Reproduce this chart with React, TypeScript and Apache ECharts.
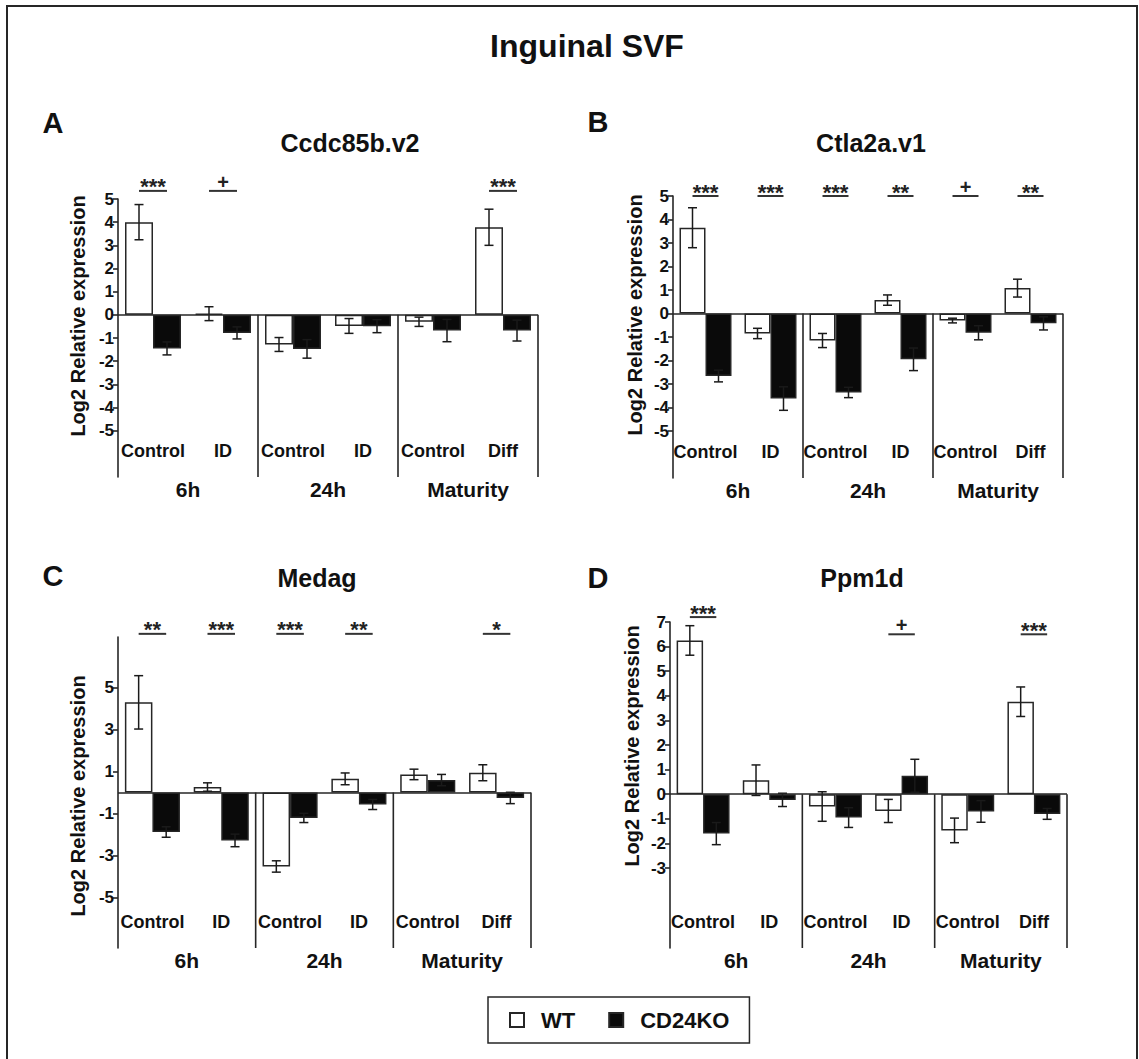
import React, { useEffect, useRef } from 'react';
import * as echarts from 'echarts';

// ---------------- DATA ----------------
const categories = ['Control', 'ID', 'Control', 'ID', 'Control', 'Diff'];
const groups = ['6h', '24h', 'Maturity'];
const seriesNames = ['WT', 'CD24KO'];
const mainTitle = 'Inguinal SVF';
const panelLetters = ['A', 'B', 'C', 'D'];
const panelTitles = ['Ccdc85b.v2', 'Ctla2a.v1', 'Medag', 'Ppm1d'];
const yAxisName = 'Log2 Relative expression';

// Panel A: Ccdc85b.v2
const wtA = [4.0, 0.05, -1.28, -0.48, -0.3, 3.78];
const wtErrA = [0.76, 0.3, 0.3, 0.32, 0.2, 0.78];
const koA = [-1.45, -0.78, -1.47, -0.49, -0.68, -0.68];
const koErrA = [0.28, 0.26, 0.4, 0.28, 0.48, 0.45];
const sigLabelsA = ['***', '+', '', '', '', '***'];
const sigLevelsA = [5.35, 5.35, 0, 0, 0, 5.35];
const ticksA = [5, 4, 3, 2, 1, 0, -1, -2, -3, -4, -5];
const rangeA = [-7, 5];

// Panel B: Ctla2a.v1
const wtB = [3.65, -0.85, -1.15, 0.57, -0.3, 1.08];
const wtErrB = [0.85, 0.22, 0.3, 0.22, 0.1, 0.38];
const koB = [-2.66, -3.62, -3.36, -1.95, -0.82, -0.42];
const koErrB = [0.25, 0.5, 0.22, 0.48, 0.3, 0.28];
const sigLabelsB = ['***', '***', '***', '**', '+', '**'];
const sigLevelsB = [5.0, 5.0, 5.0, 5.0, 5.0, 5.0];
const ticksB = [5, 4, 3, 2, 1, 0, -1, -2, -3, -4, -5];
const rangeB = [-7, 5];

// Panel C: Medag
const wtC = [4.29, 0.26, -3.52, 0.65, 0.86, 0.94];
const wtErrC = [1.27, 0.2, 0.27, 0.28, 0.25, 0.38];
const koC = [-1.88, -2.28, -1.21, -0.57, 0.59, -0.26];
const koErrC = [0.25, 0.3, 0.22, 0.24, 0.27, 0.27];
const sigLabelsC = ['**', '***', '***', '**', '', '*'];
const sigLevelsC = [7.55, 7.55, 7.55, 7.55, 0, 7.55];
const ticksC = [5, 3, 1, -1, -3, -5];
const rangeC = [-7.4, 7.4];

// Panel D: Ppm1d
const wtD = [6.25, 0.57, -0.5, -0.68, -1.47, 3.76];
const wtErrD = [0.6, 0.62, 0.6, 0.47, 0.5, 0.6];
const koD = [-1.6, -0.23, -0.95, 0.75, -0.7, -0.8];
const koErrD = [0.45, 0.27, 0.4, 0.67, 0.44, 0.22];
const sigLabelsD = ['***', '', '', '+', '', '***'];
const sigLevelsD = [7.2, 0, 0, 6.5, 0, 6.5];
const ticksD = [7, 6, 5, 4, 3, 2, 1, 0, -1, -2, -3];
const rangeD = [-6.25, 7];

// ---------------- LAYOUT ----------------
const FONT = '"Liberation Sans", Arial, Helvetica, sans-serif';
const INK = '#111';
const LINE = '#262626';

const layout = [
  { grid: { left: 118, top: 199, width: 420, height: 278 }, letter: [53, 123], title: [350, 143], yName: [78, 316] },
  { grid: { left: 673, top: 196, width: 390, height: 282 }, letter: [598, 122], title: [871, 143], yName: [635, 315] },
  { grid: { left: 118, top: 637, width: 413, height: 311 }, letter: [53, 576], title: [317, 578], yName: [78, 796] },
  { grid: { left: 670, top: 622, width: 397, height: 326 }, letter: [598, 578], title: [862, 578], yName: [632, 746] },
];

const panels = [
  { wt: wtA, wtErr: wtErrA, ko: koA, koErr: koErrA, sigLabels: sigLabelsA, sigLevels: sigLevelsA, ticks: ticksA, range: rangeA },
  { wt: wtB, wtErr: wtErrB, ko: koB, koErr: koErrB, sigLabels: sigLabelsB, sigLevels: sigLevelsB, ticks: ticksB, range: rangeB },
  { wt: wtC, wtErr: wtErrC, ko: koC, koErr: koErrC, sigLabels: sigLabelsC, sigLevels: sigLevelsC, ticks: ticksC, range: rangeC },
  { wt: wtD, wtErr: wtErrD, ko: koD, koErr: koErrD, sigLabels: sigLabelsD, sigLevels: sigLevelsD, ticks: ticksD, range: rangeD },
];

function buildOption() {
  const grids: any[] = [];
  const xAxes: any[] = [];
  const yAxes: any[] = [];
  const series: any[] = [];
  const graphic: any[] = [];

  graphic.push({
    type: 'rect', silent: true,
    shape: { x: 7, y: 6, width: 1130, height: 1080 },
    style: { fill: 'none', stroke: LINE, lineWidth: 2 },
  });
  graphic.push({
    type: 'text', x: 587, y: 46, silent: true,
    style: { text: mainTitle, fontFamily: FONT, fontWeight: 'bold', fontSize: 32, fill: INK, align: 'center', verticalAlign: 'middle' },
  });

  panels.forEach((p, k) => {
    const L = layout[k];
    grids.push({ ...L.grid, containLabel: false });
    const catAxis = xAxes.length;
    xAxes.push({
      type: 'category', gridIndex: k, data: categories, position: 'bottom',
      axisLine: { show: false }, axisTick: { show: false }, splitLine: { show: false },
      axisLabel: { inside: true, margin: 17, interval: 0, fontFamily: FONT, fontWeight: 'bold', fontSize: 18, color: INK },
    });
    const grpAxis = xAxes.length;
    xAxes.push({
      type: 'category', gridIndex: k, data: groups, position: 'bottom',
      axisLine: { show: false }, axisTick: { show: false }, splitLine: { show: false },
      axisLabel: { margin: 2, interval: 0, fontFamily: FONT, fontWeight: 'bold', fontSize: 21, color: INK },
    });
    yAxes.push({
      type: 'value', gridIndex: k, min: p.range[0], max: p.range[1],
      axisLine: { show: true, lineStyle: { color: LINE, width: 1.6 } },
      axisTick: { show: true, length: 5, customValues: p.ticks, lineStyle: { color: LINE, width: 1.6 } },
      axisLabel: { customValues: p.ticks, margin: 4, fontFamily: FONT, fontWeight: 'bold', fontSize: 17, color: INK },
      splitLine: { show: false },
    });

    const barStyle = (fill: string) => ({ color: fill, borderColor: LINE, borderWidth: 1.5 });
    series.push({
      type: 'bar', name: seriesNames[0], xAxisIndex: catAxis, yAxisIndex: k,
      data: p.wt, itemStyle: barStyle('#ffffff'),
      barGap: '0%', barCategoryGap: '20%', z: 2,
      markLine: {
        silent: true, symbol: ['none', 'none'], label: { show: false },
        lineStyle: { color: LINE, width: 1.6, type: 'solid' },
        emphasis: { disabled: true },
        data: [{ yAxis: 0 }],
      },
    });
    series.push({
      type: 'bar', name: seriesNames[1], xAxisIndex: catAxis, yAxisIndex: k,
      data: p.ko, itemStyle: barStyle('#0a0a0a'),
      barGap: '0%', barCategoryGap: '20%', z: 2,
    });

    // error bars
    const errData: number[][] = [];
    p.wt.forEach((v, i) => errData.push([i, v, p.wtErr[i], 0]));
    p.ko.forEach((v, i) => errData.push([i, v, p.koErr[i], 1]));
    series.push({
      type: 'custom', xAxisIndex: catAxis, yAxisIndex: k, z: 4, silent: true, clip: false,
      encode: { x: 0, y: 1 },
      data: errData,
      renderItem: (params: any, api: any) => {
        const i = api.value(0), v = api.value(1), e = api.value(2), side = api.value(3);
        const band = api.size([1, 0])[0];
        const cx = api.coord([i, v])[0] + (side === 0 ? -0.2 : 0.2) * band;
        const yt = api.coord([i, v + e])[1];
        const yb = api.coord([i, v - e])[1];
        const cap = 4.5;
        const st = { stroke: '#1a1a1a', lineWidth: 1.5 };
        return {
          type: 'group', children: [
            { type: 'line', shape: { x1: cx, y1: yt, x2: cx, y2: yb }, style: st },
            { type: 'line', shape: { x1: cx - cap, y1: yt, x2: cx + cap, y2: yt }, style: st },
            { type: 'line', shape: { x1: cx - cap, y1: yb, x2: cx + cap, y2: yb }, style: st },
          ],
        };
      },
    });

    // significance markers
    const sigItems = p.sigLabels
      .map((lab, i) => ({ lab, i, lv: p.sigLevels[i] }))
      .filter((s) => s.lab !== '');
    series.push({
      type: 'custom', xAxisIndex: catAxis, yAxisIndex: k, z: 5, silent: true, clip: false,
      encode: { x: 0, y: 1 },
      data: sigItems.map((s) => [s.i, s.lv]),
      renderItem: (params: any, api: any) => {
        const i = api.value(0), lv = api.value(1);
        const band = api.size([1, 0])[0];
        const pt = api.coord([i, lv]);
        const lab = sigItems[params.dataIndex].lab;
        const isStar = lab.indexOf('*') >= 0;
        return {
          type: 'group', children: [
            { type: 'line', shape: { x1: pt[0] - 0.2 * band, y1: pt[1], x2: pt[0] + 0.2 * band, y2: pt[1] }, style: { stroke: '#333', lineWidth: 2 } },
            {
              type: 'text', x: pt[0], y: pt[1] + (isStar ? 7 : 1),
              style: { text: lab, fontFamily: FONT, fontWeight: 'bold', fontSize: isStar ? 22 : 20, fill: '#222', align: 'center', verticalAlign: 'bottom' },
            },
          ],
        };
      },
    });

    // group separators (vertical lines below zero at group boundaries)
    series.push({
      type: 'custom', xAxisIndex: grpAxis, yAxisIndex: k, z: 3, silent: true, clip: false,
      encode: { x: 0, y: 1 },
      data: groups.map((g, i) => [i, 0]),
      renderItem: (params: any, api: any) => {
        const i = api.value(0);
        const band = api.size([1, 0])[0];
        const top = api.coord([i, 0]);
        const bot = api.coord([i, p.range[0]]);
        const x = top[0] + band / 2;
        return { type: 'line', shape: { x1: x, y1: top[1], x2: x, y2: bot[1] }, style: { stroke: LINE, lineWidth: 1.6 } };
      },
    });

    graphic.push({
      type: 'text', x: L.letter[0], y: L.letter[1], silent: true,
      style: { text: panelLetters[k], fontFamily: FONT, fontWeight: 'bold', fontSize: 29, fill: INK, align: 'center', verticalAlign: 'middle' },
    });
    graphic.push({
      type: 'text', x: L.title[0], y: L.title[1], silent: true,
      style: { text: panelTitles[k], fontFamily: FONT, fontWeight: 'bold', fontSize: 25, fill: INK, align: 'center', verticalAlign: 'middle' },
    });
    graphic.push({
      type: 'text', x: L.yName[0], y: L.yName[1], rotation: Math.PI / 2, silent: true,
      style: { text: yAxisName, fontFamily: FONT, fontWeight: 'bold', fontSize: 20, fill: INK, align: 'center', verticalAlign: 'middle' },
    });
  });

  return {
    animation: false,
    backgroundColor: '#ffffff',
    grid: grids,
    xAxis: xAxes,
    yAxis: yAxes,
    series,
    graphic,
    legend: {
      data: seriesNames,
      left: 488, top: 997,
      orient: 'horizontal',
      icon: 'rect', itemWidth: 14, itemHeight: 14, itemGap: 33,
      padding: [12, 20, 12, 21],
      borderColor: LINE, borderWidth: 1.5,
      selectedMode: false,
      textStyle: { fontFamily: FONT, fontWeight: 'bold', fontSize: 22, color: INK, padding: [0, 0, 0, 12] },
    },
  };
}

export default function App() {
  const ref = useRef<HTMLDivElement>(null);
  useEffect(() => {
    const chart = echarts.init(ref.current as HTMLDivElement, null, { renderer: 'svg' });
    chart.setOption(buildOption() as any);
    return () => chart.dispose();
  }, []);
  return (
    <div
      ref={ref}
      style={{ position: 'absolute', left: 0, top: 0, width: 1139, height: 1059, background: '#fff' }}
    />
  );
}
